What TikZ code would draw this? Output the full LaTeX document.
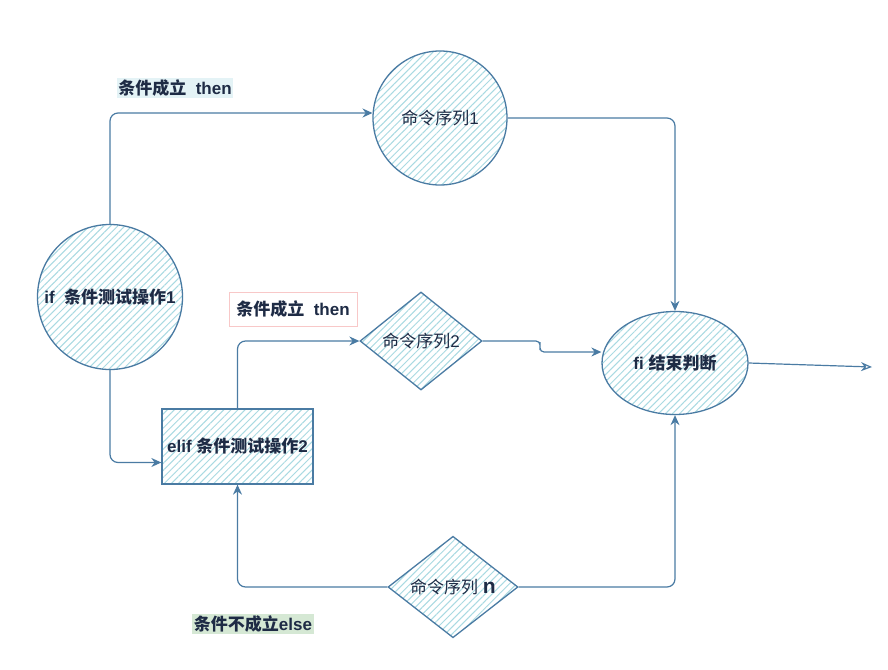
\documentclass[tikz,border=0pt]{standalone}
\usepackage{fontspec}
\setmainfont{Liberation Sans}
\newfontfamily\cjk{Noto Sans CJK SC}
\usetikzlibrary{shapes.geometric,patterns.meta,arrows.meta,calc}
\definecolor{edgec}{HTML}{4A7BA3}
\definecolor{hatchc}{HTML}{A9DAE2}
\definecolor{txtc}{HTML}{1E2B45}
\definecolor{labone}{HTML}{E4F3F6}
\definecolor{labthree}{HTML}{D5E8D4}
\definecolor{pinkb}{HTML}{F8C8C8}
\begin{document}
\begin{tikzpicture}[x=1pt,y=-1pt,
  shapebox/.style={draw=edgec, line width=1.3pt, preaction={fill=white},
    pattern={Lines[angle=45,distance=5pt,line width=1pt]}, pattern color=hatchc,
    text=txtc, inner sep=0pt, font=\fontsize{17}{20}\selectfont},
  boldtxt/.style={font=\fontsize{17}{20}\selectfont\bfseries},
  labelbox/.style={text=txtc, inner sep=1.5pt, font=\fontsize{17}{20}\selectfont\bfseries},
  edge/.style={draw=edgec, line width=1.2pt, rounded corners=8pt, -{Stealth[length=10pt,width=9pt]}}
]
\useasboundingbox (0,0) rectangle (888,669);

% shapes
\node[circle, shapebox, minimum size=134pt] (c1) at (440,118) {{\cjk 命令序列}1};
\node[circle, shapebox, boldtxt, minimum size=145pt] (ifn) at (110,297) {if\ \ {\cjk\bfseries 条件测试操作}1};
\node[diamond, shapebox, minimum width=122pt, minimum height=98pt] (d2) at (421,341) {{\cjk 命令序列}2};
\node[rectangle, shapebox, boldtxt, minimum width=151pt, minimum height=75pt] (elif) at (237.5,446.5) {elif {\cjk\bfseries 条件测试操作}2};
\node[ellipse, shapebox, boldtxt, minimum width=146pt, minimum height=103pt] (fi) at (675,363) {fi {\cjk\bfseries 结束判断}};
\node[diamond, shapebox, minimum width=130pt, minimum height=100pt] (dn) at (453,587) {{\cjk 命令序列} {\bfseries\fontsize{21}{23}\selectfont n}};

% labels
\node[labelbox, fill=labone] (l1) at (175,88) {{\cjk\bfseries 条件成立}\ \ then};
\node[labelbox, draw=pinkb, line width=1pt, fill=white, minimum width=128pt, minimum height=34pt] (l2) at (293,309) {{\cjk\bfseries 条件成立}\ \ then};
\node[labelbox, fill=labthree] (l3) at (253,624) {{\cjk\bfseries 条件不成立}else};

% connectors
\coordinate (out) at (872,367);
\coordinate (bend) at (540,346);
\draw[edge] (ifn.north) |- ([yshift=5pt]c1.west);
\draw[edge] (c1.east) -| (fi.north);
\draw[edge] (ifn.south) |- ([yshift=-16pt]elif.west);
\draw[edge] (elif.north) |- (d2.west);
\draw[edge, rounded corners=4pt] (d2.east) -| (bend) |- ([yshift=11pt]fi.west);
\draw[edge] (dn.west) -| (elif.south);
\draw[edge] (dn.east) -| (fi.south);
\draw[draw=edgec, line width=1.2pt, -{Stealth[open,length=11pt,width=9pt]}] (fi.east) -- (out);
\end{tikzpicture}
\end{document}
